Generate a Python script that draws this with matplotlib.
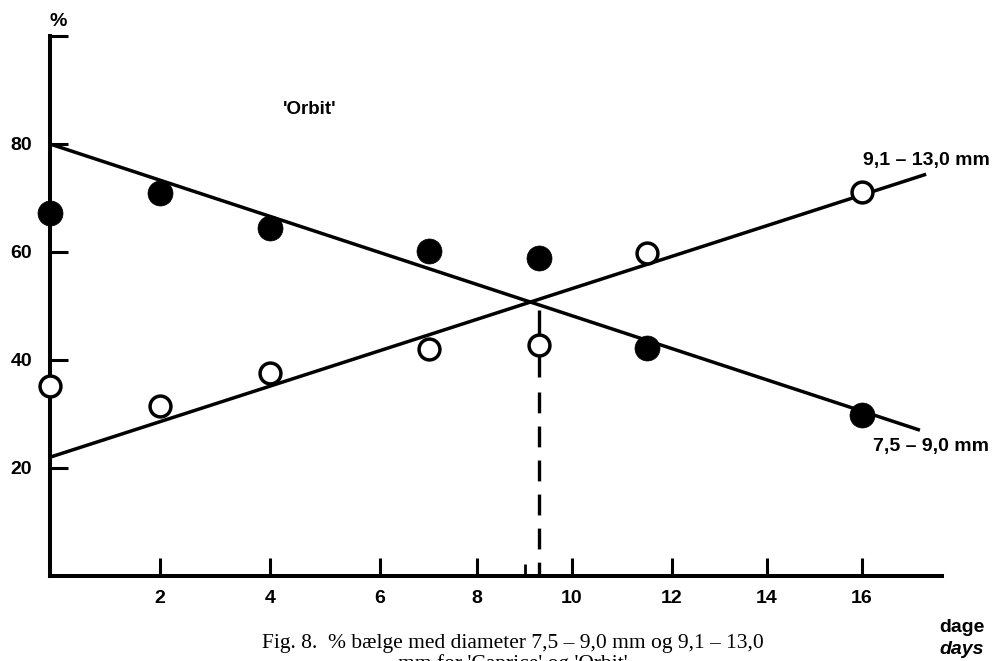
import numpy as np
import matplotlib
matplotlib.use("Agg")
import matplotlib.pyplot as plt

# Percentage of pods by diameter class over storage days, cultivar 'Orbit'
days = [0, 2, 4, 7, 9.3, 11.5, 16]
pct_small = [67.3, 70.9, 64.4, 60.1, 58.8, 42.3, 29.8]   # 7,5 - 9,0 mm (filled)
pct_large = [35.2, 31.5, 37.6, 42.0, 42.8, 59.8, 71.2]   # 9,1 - 13,0 mm (open)

# Trend lines as (start, end) points
trend_small_x = [0, 17.22]
trend_small_y = [80.0, 27.0]
trend_large_x = [0, 17.35]
trend_large_y = [22.0, 74.4]
crossover_day = 9.3
crossover_pct = 49.3

xticks = [2, 4, 6, 8, 10, 12, 14, 16]
yticks = [20, 40, 60, 80, 100]
ytick_labels = ["20", "40", "60", "80", ""]

W, H = 994, 661
plt.rcParams["font.family"] = ["Liberation Sans", "DejaVu Sans"]
plt.rcParams["lines.scale_dashes"] = False

# The hand-ruled day axis is not evenly spaced; calibrate it piecewise.
_ax_days = np.array([-1, 0, 2, 4, 6, 8, 10, 12, 14, 16, 18], dtype=float)
_ax_pos = np.array([-5, 50, 160, 270, 380, 477, 572, 672, 767, 862, 957], dtype=float)


def _fwd(x):
    return np.interp(x, _ax_days, _ax_pos)


def _inv(p):
    return np.interp(p, _ax_pos, _ax_days)


fig = plt.figure(figsize=(W / 100, H / 100), dpi=100)
ax = fig.add_axes([50 / W, 85 / H, 892 / W, 540 / H])
ax.set_xscale("function", functions=(_fwd, _inv))
ax.set_xlim(0, 16 + 80 / 47.5)
ax.set_ylim(0, 100)

for side in ("top", "right"):
    ax.spines[side].set_visible(False)
for side in ("left", "bottom"):
    ax.spines[side].set_linewidth(2.9)
    ax.spines[side].set_capstyle("projecting")

ax.set_xticks(xticks)
ax.set_xticklabels([str(t) for t in xticks])
ax.set_xticks([9], minor=True)
ax.set_xticklabels([""], minor=True)
ax.set_yticks(yticks)
ax.set_yticklabels(ytick_labels)
ax.set_yticks([], minor=True)
ax.tick_params(which="major", direction="in", length=13, width=2.2, color="black")
ax.tick_params(which="minor", direction="in", length=9, width=2.0, color="black")
ax.tick_params(axis="y", pad=13)
ax.tick_params(axis="x", pad=10)
for lab in ax.get_xticklabels() + ax.get_yticklabels():
    lab.set_fontsize(14)
    lab.set_fontweight("bold")

# trend lines
ax.plot(trend_small_x, trend_small_y, color="black", lw=2.5,
        solid_capstyle="butt", zorder=2)
ax.plot(trend_large_x, trend_large_y, color="black", lw=2.5,
        solid_capstyle="butt", zorder=2)

# vertical marker at the crossover of the two lines
ax.plot([crossover_day, crossover_day], [crossover_pct, 36.9], color="black", lw=2.4,
        solid_capstyle="butt", zorder=2)
ax.plot([crossover_day, crossover_day], [34.1, 0], color="black", lw=2.4,
        linestyle=(0, (15, 9.5)), dash_capstyle="butt", zorder=2)

# data points
ax.plot(days, pct_small, linestyle="none", marker="o", ms=18, mfc="black",
        mec="black", mew=0.5, clip_on=False, zorder=3)
ax.plot(days, pct_large, linestyle="none", marker="o", ms=15, mfc="white",
        mec="black", mew=2.5, clip_on=False, zorder=3)


def ftext(px, py, s, **kw):
    fig.text(px / W, 1 - py / H, s, **kw)


ftext(58, 21, "%", fontsize=14, fontweight="bold", ha="center", va="center")
ftext(310, 109, "'Orbit'", fontsize=13.5, fontweight="bold", ha="center", va="center")
ftext(863, 160, "9,1 – 13,0 mm", fontsize=14, fontweight="bold", ha="left", va="center")
ftext(873, 446, "7,5 – 9,0 mm", fontsize=14, fontweight="bold", ha="left", va="center")
ftext(962, 627, "dage", fontsize=14, fontweight="bold", ha="center", va="center")
ftext(962, 649, "days", fontsize=14, fontweight="bold", style="italic",
      ha="center", va="center")

serif = ["Liberation Serif", "DejaVu Serif"]
ftext(513, 648, "Fig. 8.  % bælge med diameter 7,5 – 9,0 mm og 9,1 – 13,0",
      fontsize=15.5, family=serif, ha="center", va="baseline")
ftext(513, 669, "mm for 'Caprice' og 'Orbit'",
      fontsize=15.5, family=serif, ha="center", va="baseline")

fig.savefig("out.png", dpi=100, facecolor="white")
